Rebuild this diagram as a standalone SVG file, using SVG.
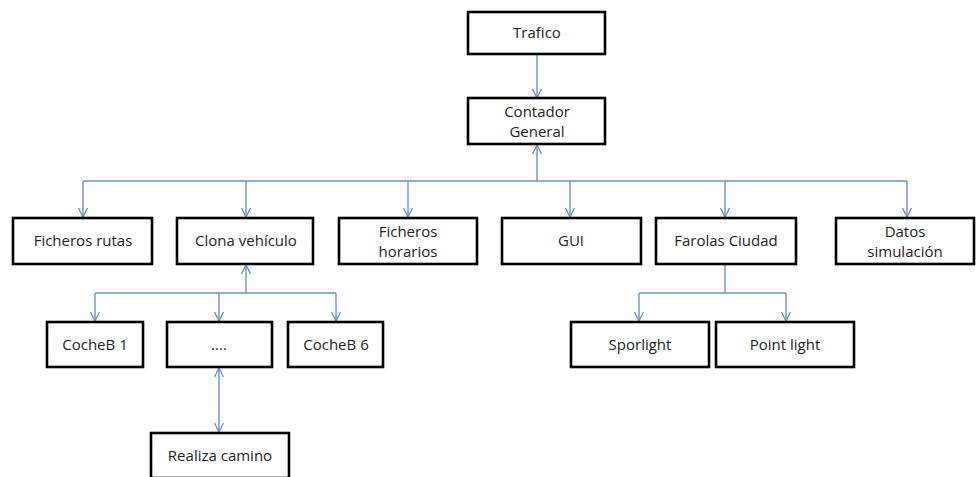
<svg xmlns="http://www.w3.org/2000/svg" width="976" height="477" viewBox="0 0 976 477">
<defs>
<style>
.box{fill:#fff;stroke:#000;stroke-width:2.6}
.t{font-family:"Open Sans","Liberation Sans",sans-serif;font-size:15px;fill:#222;text-anchor:middle}
.c{fill:none;stroke:#6a93c9;stroke-width:1.4}
</style>
<marker id="ah" viewBox="0 0 10 10" refX="10" refY="5" markerWidth="10" markerHeight="10" markerUnits="userSpaceOnUse" orient="auto-start-reverse">
<path d="M1,0.5 L10,5 L1,9.5" fill="none" stroke="#6a93c9" stroke-width="1.4"/>
</marker>
</defs>
<rect width="976" height="477" fill="#fff"/>
<g id="connectors">
<path class="c" d="M537,54 V98" marker-end="url(#ah)"/>
<path class="c" d="M537,181 V145" marker-end="url(#ah)"/>
<path class="c" d="M83,181 H907"/>
<path class="c" d="M83,181 V217" marker-end="url(#ah)"/>
<path class="c" d="M246,181 V217" marker-end="url(#ah)"/>
<path class="c" d="M408,181 V217" marker-end="url(#ah)"/>
<path class="c" d="M570,181 V217" marker-end="url(#ah)"/>
<path class="c" d="M725,181 V217" marker-end="url(#ah)"/>
<path class="c" d="M907,181 V217" marker-end="url(#ah)"/>
<path class="c" d="M246,293 V265" marker-end="url(#ah)"/>
<path class="c" d="M95,293 H336"/>
<path class="c" d="M95,293 V321" marker-end="url(#ah)"/>
<path class="c" d="M219,293 V321" marker-end="url(#ah)"/>
<path class="c" d="M336,293 V321" marker-end="url(#ah)"/>
<path class="c" d="M219,368 V432" marker-start="url(#ah)" marker-end="url(#ah)"/>
<path class="c" d="M725,265 V293"/>
<path class="c" d="M639,293 H786"/>
<path class="c" d="M639,293 V321" marker-end="url(#ah)"/>
<path class="c" d="M786,293 V321" marker-end="url(#ah)"/>
</g>
<g id="trafico"><rect class="box" x="468" y="12" width="137" height="42"/><text class="t" x="537" y="38">Trafico</text></g>
<g id="contador"><rect class="box" x="468" y="98" width="137" height="46"/><text class="t" x="537" y="117">Contador</text><text class="t" x="537" y="137">General</text></g>
<g id="ficheros-rutas"><rect class="box" x="13" y="218" width="139" height="46"/><text class="t" x="83" y="246">Ficheros rutas</text></g>
<g id="clona"><rect class="box" x="177" y="218" width="136" height="46"/><text class="t" x="246" y="246">Clona vehículo</text></g>
<g id="ficheros-horarios"><rect class="box" x="339" y="218" width="138" height="46"/><text class="t" x="408" y="237">Ficheros</text><text class="t" x="408" y="257">horarios</text></g>
<g id="gui"><rect class="box" x="502" y="218" width="139" height="46"/><text class="t" x="571" y="246">GUI</text></g>
<g id="farolas"><rect class="box" x="656" y="218" width="140" height="46"/><text class="t" x="726" y="246">Farolas Ciudad</text></g>
<g id="datos"><rect class="box" x="836" y="218" width="138" height="46"/><text class="t" x="905" y="237">Datos</text><text class="t" x="905" y="257">simulación</text></g>
<g id="cocheb1"><rect class="box" x="47" y="322" width="96" height="45"/><text class="t" x="95" y="350">CocheB 1</text></g>
<g id="dots"><rect class="box" x="167" y="322" width="105" height="45"/><text class="t" x="219" y="350">....</text></g>
<g id="cocheb6"><rect class="box" x="288" y="322" width="95" height="45"/><text class="t" x="336" y="350">CocheB 6</text></g>
<g id="realiza"><rect class="box" x="151" y="433" width="138" height="45"/><text class="t" x="220" y="461">Realiza camino</text></g>
<g id="sporlight"><rect class="box" x="571" y="322" width="138" height="45"/><text class="t" x="640" y="350">Sporlight</text></g>
<g id="pointlight"><rect class="box" x="716" y="322" width="138" height="45"/><text class="t" x="785" y="350">Point light</text></g>
</svg>
